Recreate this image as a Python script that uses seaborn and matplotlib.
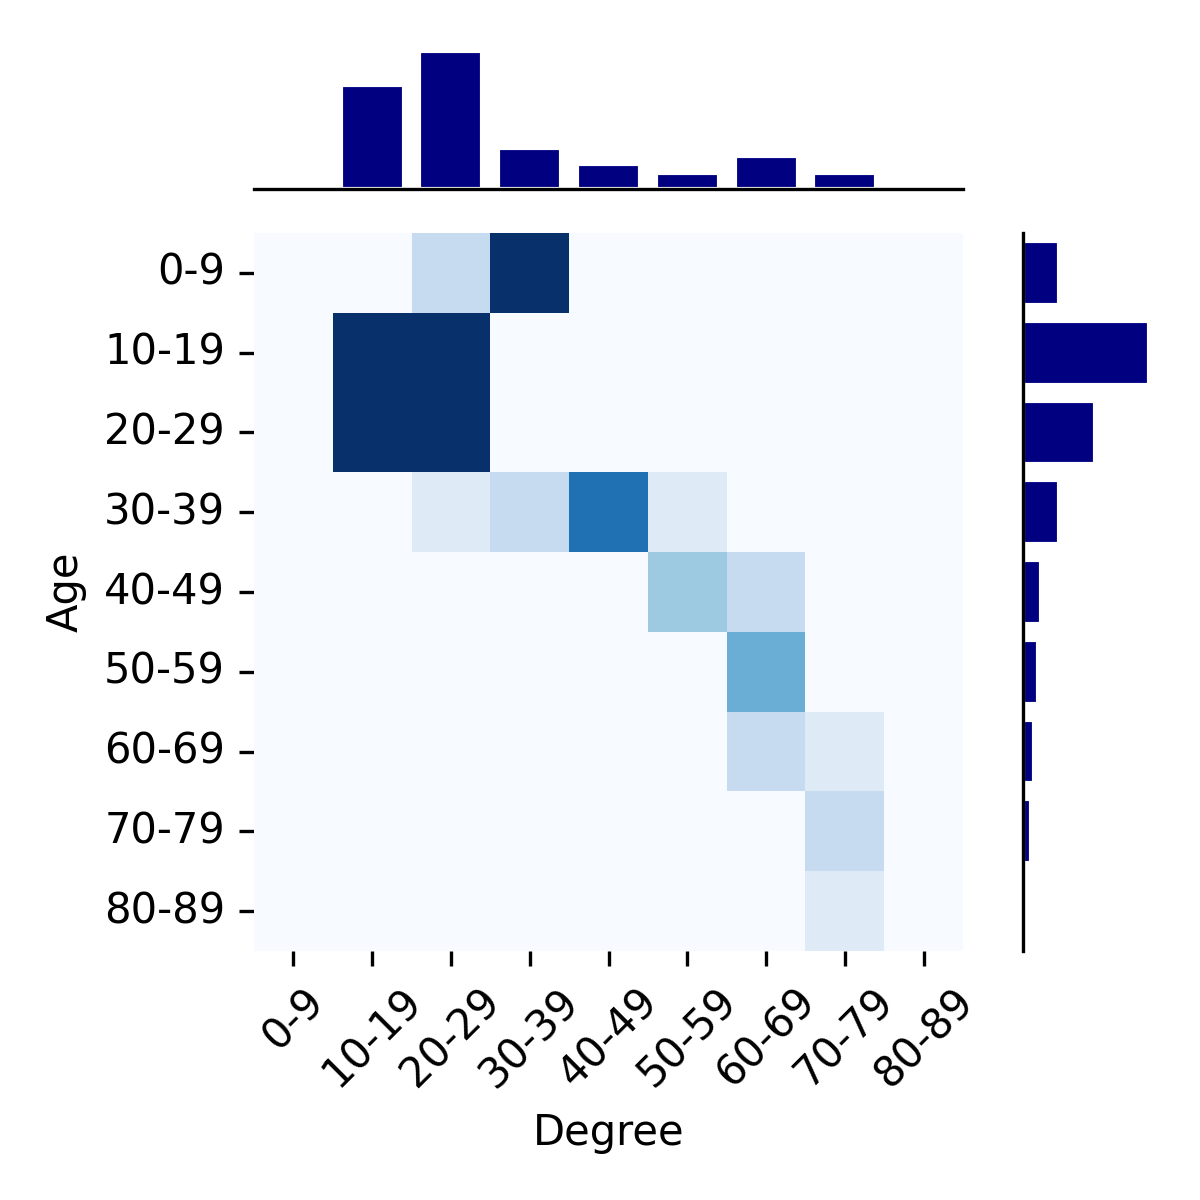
import matplotlib

matplotlib.use("Agg")
import matplotlib.pyplot as plt
import pandas as pd
import seaborn as sns

sns.set_style(
    "ticks",
    {
        "axes.edgecolor": "black",
        "axes.labelcolor": "black",
        "text.color": "black",
        "xtick.color": "black",
        "ytick.color": "black",
    },
)

bins = ["0-9", "10-19", "20-29", "30-39", "40-49", "50-59", "60-69", "70-79", "80-89"]

# heatmap counts, rows = age bin, columns = degree bin
age_0_9 = [0, 0, 2, 8, 0, 0, 0, 0, 0]
age_10_19 = [0, 17, 18, 0, 0, 0, 0, 0, 0]
age_20_29 = [0, 8, 12, 0, 0, 0, 0, 0, 0]
age_30_39 = [0, 0, 1, 2, 6, 1, 0, 0, 0]
age_40_49 = [0, 0, 0, 0, 0, 3, 2, 0, 0]
age_50_59 = [0, 0, 0, 0, 0, 0, 4, 0, 0]
age_60_69 = [0, 0, 0, 0, 0, 0, 2, 1, 0]
age_70_79 = [0, 0, 0, 0, 0, 0, 0, 2, 0]
age_80_89 = [0, 0, 0, 0, 0, 0, 0, 1, 0]

# marginal totals
degree_counts = [0, 25, 33, 10, 6, 4, 8, 4, 0]
age_counts = [10, 35, 20, 10, 5, 4, 3, 2, 1]

matrix = pd.DataFrame(
    [age_0_9, age_10_19, age_20_29, age_30_39, age_40_49,
     age_50_59, age_60_69, age_70_79, age_80_89],
    index=bins,
    columns=bins,
)

fig = plt.figure(figsize=(4, 4), dpi=300)
ax_joint = fig.add_axes([0.2117, 0.2075, 0.5908, 0.5983])
ax_top = fig.add_axes([0.2117, 0.8421, 0.5908, 0.1208])
ax_right = fig.add_axes([0.8529, 0.2075, 0.11, 0.5983])

sns.heatmap(matrix, cmap="Blues", vmin=0, vmax=8, cbar=False, ax=ax_joint)
ax_joint.set_xlabel("Degree", fontsize=10)
ax_joint.set_ylabel("Age", fontsize=10)
ax_joint.tick_params(axis="x", labelrotation=45, labelsize=10)
ax_joint.tick_params(axis="y", labelrotation=0, labelsize=10)

sns.barplot(x=bins, y=degree_counts, color="navy", saturation=1, ax=ax_top)
ax_top.set_xlim(-0.5, len(bins) - 0.5)
ax_top.set_xticks([])
ax_top.set_yticks([])
ax_top.set_xlabel("")
ax_top.set_ylabel("")
sns.despine(ax=ax_top, left=True)

sns.barplot(y=bins, x=age_counts, orient="h", color="navy", saturation=1, ax=ax_right)
ax_right.set_ylim(len(bins) - 0.5, -0.5)
ax_right.set_xticks([])
ax_right.set_yticks([])
ax_right.set_xlabel("")
ax_right.set_ylabel("")
sns.despine(ax=ax_right, bottom=True)

fig.savefig("out.png", dpi=300)
